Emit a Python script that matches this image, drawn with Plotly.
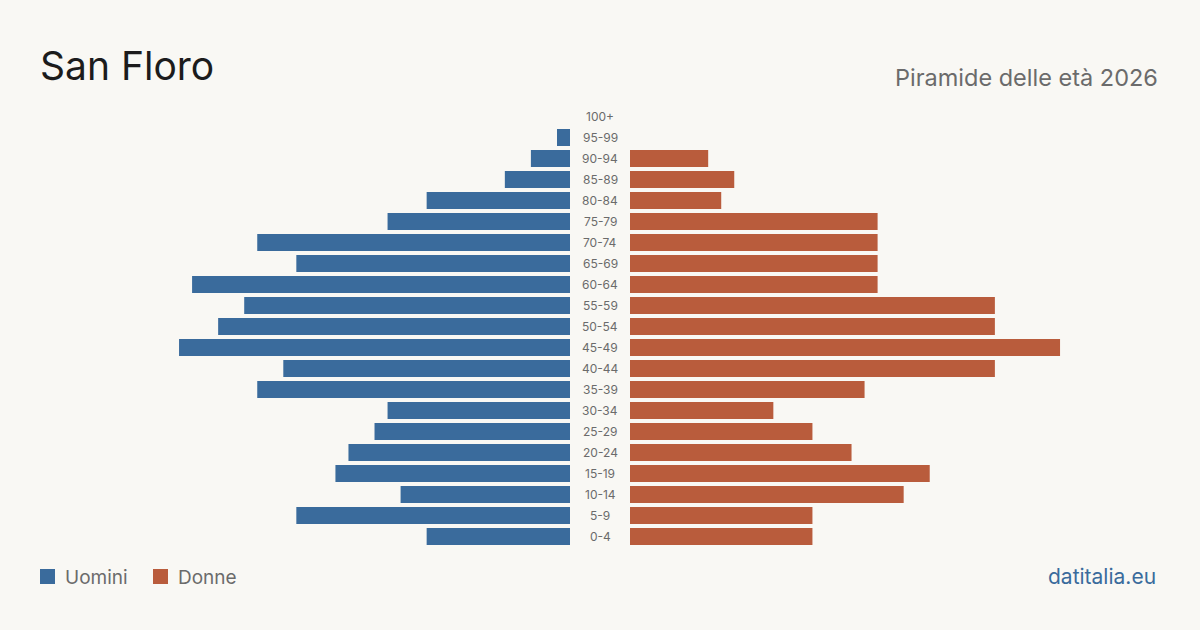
import plotly.graph_objects as go

age_groups = ["0-4", "5-9", "10-14", "15-19", "20-24", "25-29", "30-34", "35-39",
              "40-44", "45-49", "50-54", "55-59", "60-64", "65-69", "70-74", "75-79",
              "80-84", "85-89", "90-94", "95-99", "100+"]
men = [11, 21, 13, 18, 17, 15, 14, 24, 22, 30, 27, 25, 29, 21, 24, 14, 11, 5, 3, 1, 0]
women = [14, 14, 21, 23, 17, 14, 11, 18, 28, 33, 28, 28, 19, 19, 19, 19, 7, 8, 6, 0, 0]

title = "San Floro"
subtitle = "Piramide delle età 2026"
source = "datitalia.eu"
legend_names = ["Uomini", "Donne"]

BLUE = "#3a6b9c"
ORANGE = "#b95c3c"
BG = "#f9f8f4"
FONT = "Inter, 'Noto Sans', sans-serif"

W, H = 1200, 630
ML, MR, MT, MB = 40, 40, 106, 83
PW = W - ML - MR
PH = H - MT - MB
half_px = 530
axis_max = 40.67

def py(y_pixel):
    return (H - MB - y_pixel) / PH

def px(x_pixel):
    return (x_pixel - ML) / PW

fig = go.Figure()
fig.add_trace(go.Bar(x=men, y=age_groups, orientation="h", marker_color=BLUE,
                     marker_line_width=0,
                     name=legend_names[0], xaxis="x", yaxis="y", hoverinfo="x+y"))
fig.add_trace(go.Bar(x=women, y=age_groups, orientation="h", marker_color=ORANGE,
                     marker_line_width=0,
                     name=legend_names[1], xaxis="x2", yaxis="y", hoverinfo="x+y"))

annotations = []
for g in age_groups:
    annotations.append(dict(x=0.5, y=g, xref="paper", yref="y", text=g, showarrow=False,
                            font=dict(family=FONT, size=12, color="#6b6b6b"),
                            xanchor="center", yanchor="middle"))

annotations += [
    dict(x=px(38), y=py(66), xref="paper", yref="paper", text=title, showarrow=False,
         xanchor="left", yanchor="middle", font=dict(family=FONT, size=39, color="#1c1c1c")),
    dict(x=px(1160), y=py(77), xref="paper", yref="paper", text=subtitle, showarrow=False,
         xanchor="right", yanchor="middle", font=dict(family=FONT, size=23.5, color="#6b6b6b")),
    dict(x=px(1158), y=py(576), xref="paper", yref="paper", text=source, showarrow=False,
         xanchor="right", yanchor="middle", font=dict(family=FONT, size=21, color=BLUE)),
    dict(x=px(63), y=py(577), xref="paper", yref="paper", text=legend_names[0], showarrow=False,
         xanchor="left", yanchor="middle", font=dict(family=FONT, size=19, color="#6b6b6b")),
    dict(x=px(176), y=py(577), xref="paper", yref="paper", text=legend_names[1], showarrow=False,
         xanchor="left", yanchor="middle", font=dict(family=FONT, size=19, color="#6b6b6b")),
]

shapes = [
    dict(type="rect", xref="paper", yref="paper", x0=px(40), x1=px(55), y0=py(584), y1=py(569),
         fillcolor=BLUE, line=dict(width=0)),
    dict(type="rect", xref="paper", yref="paper", x0=px(153), x1=px(168), y0=py(584), y1=py(569),
         fillcolor=ORANGE, line=dict(width=0)),
]

fig.update_layout(
    width=W, height=H,
    margin=dict(l=ML, r=MR, t=MT, b=MB),
    paper_bgcolor=BG, plot_bgcolor=BG,
    showlegend=False,
    bargap=0.19,
    xaxis=dict(domain=[0, half_px / PW], range=[axis_max, 0], visible=False, fixedrange=True),
    xaxis2=dict(domain=[1 - half_px / PW, 1], range=[0, axis_max], visible=False, fixedrange=True),
    yaxis=dict(type="category", categoryorder="array", categoryarray=age_groups,
               range=[-0.5, len(age_groups) - 0.5], visible=False, fixedrange=True),
    annotations=annotations,
    shapes=shapes,
)

fig.write_html("out.html")
